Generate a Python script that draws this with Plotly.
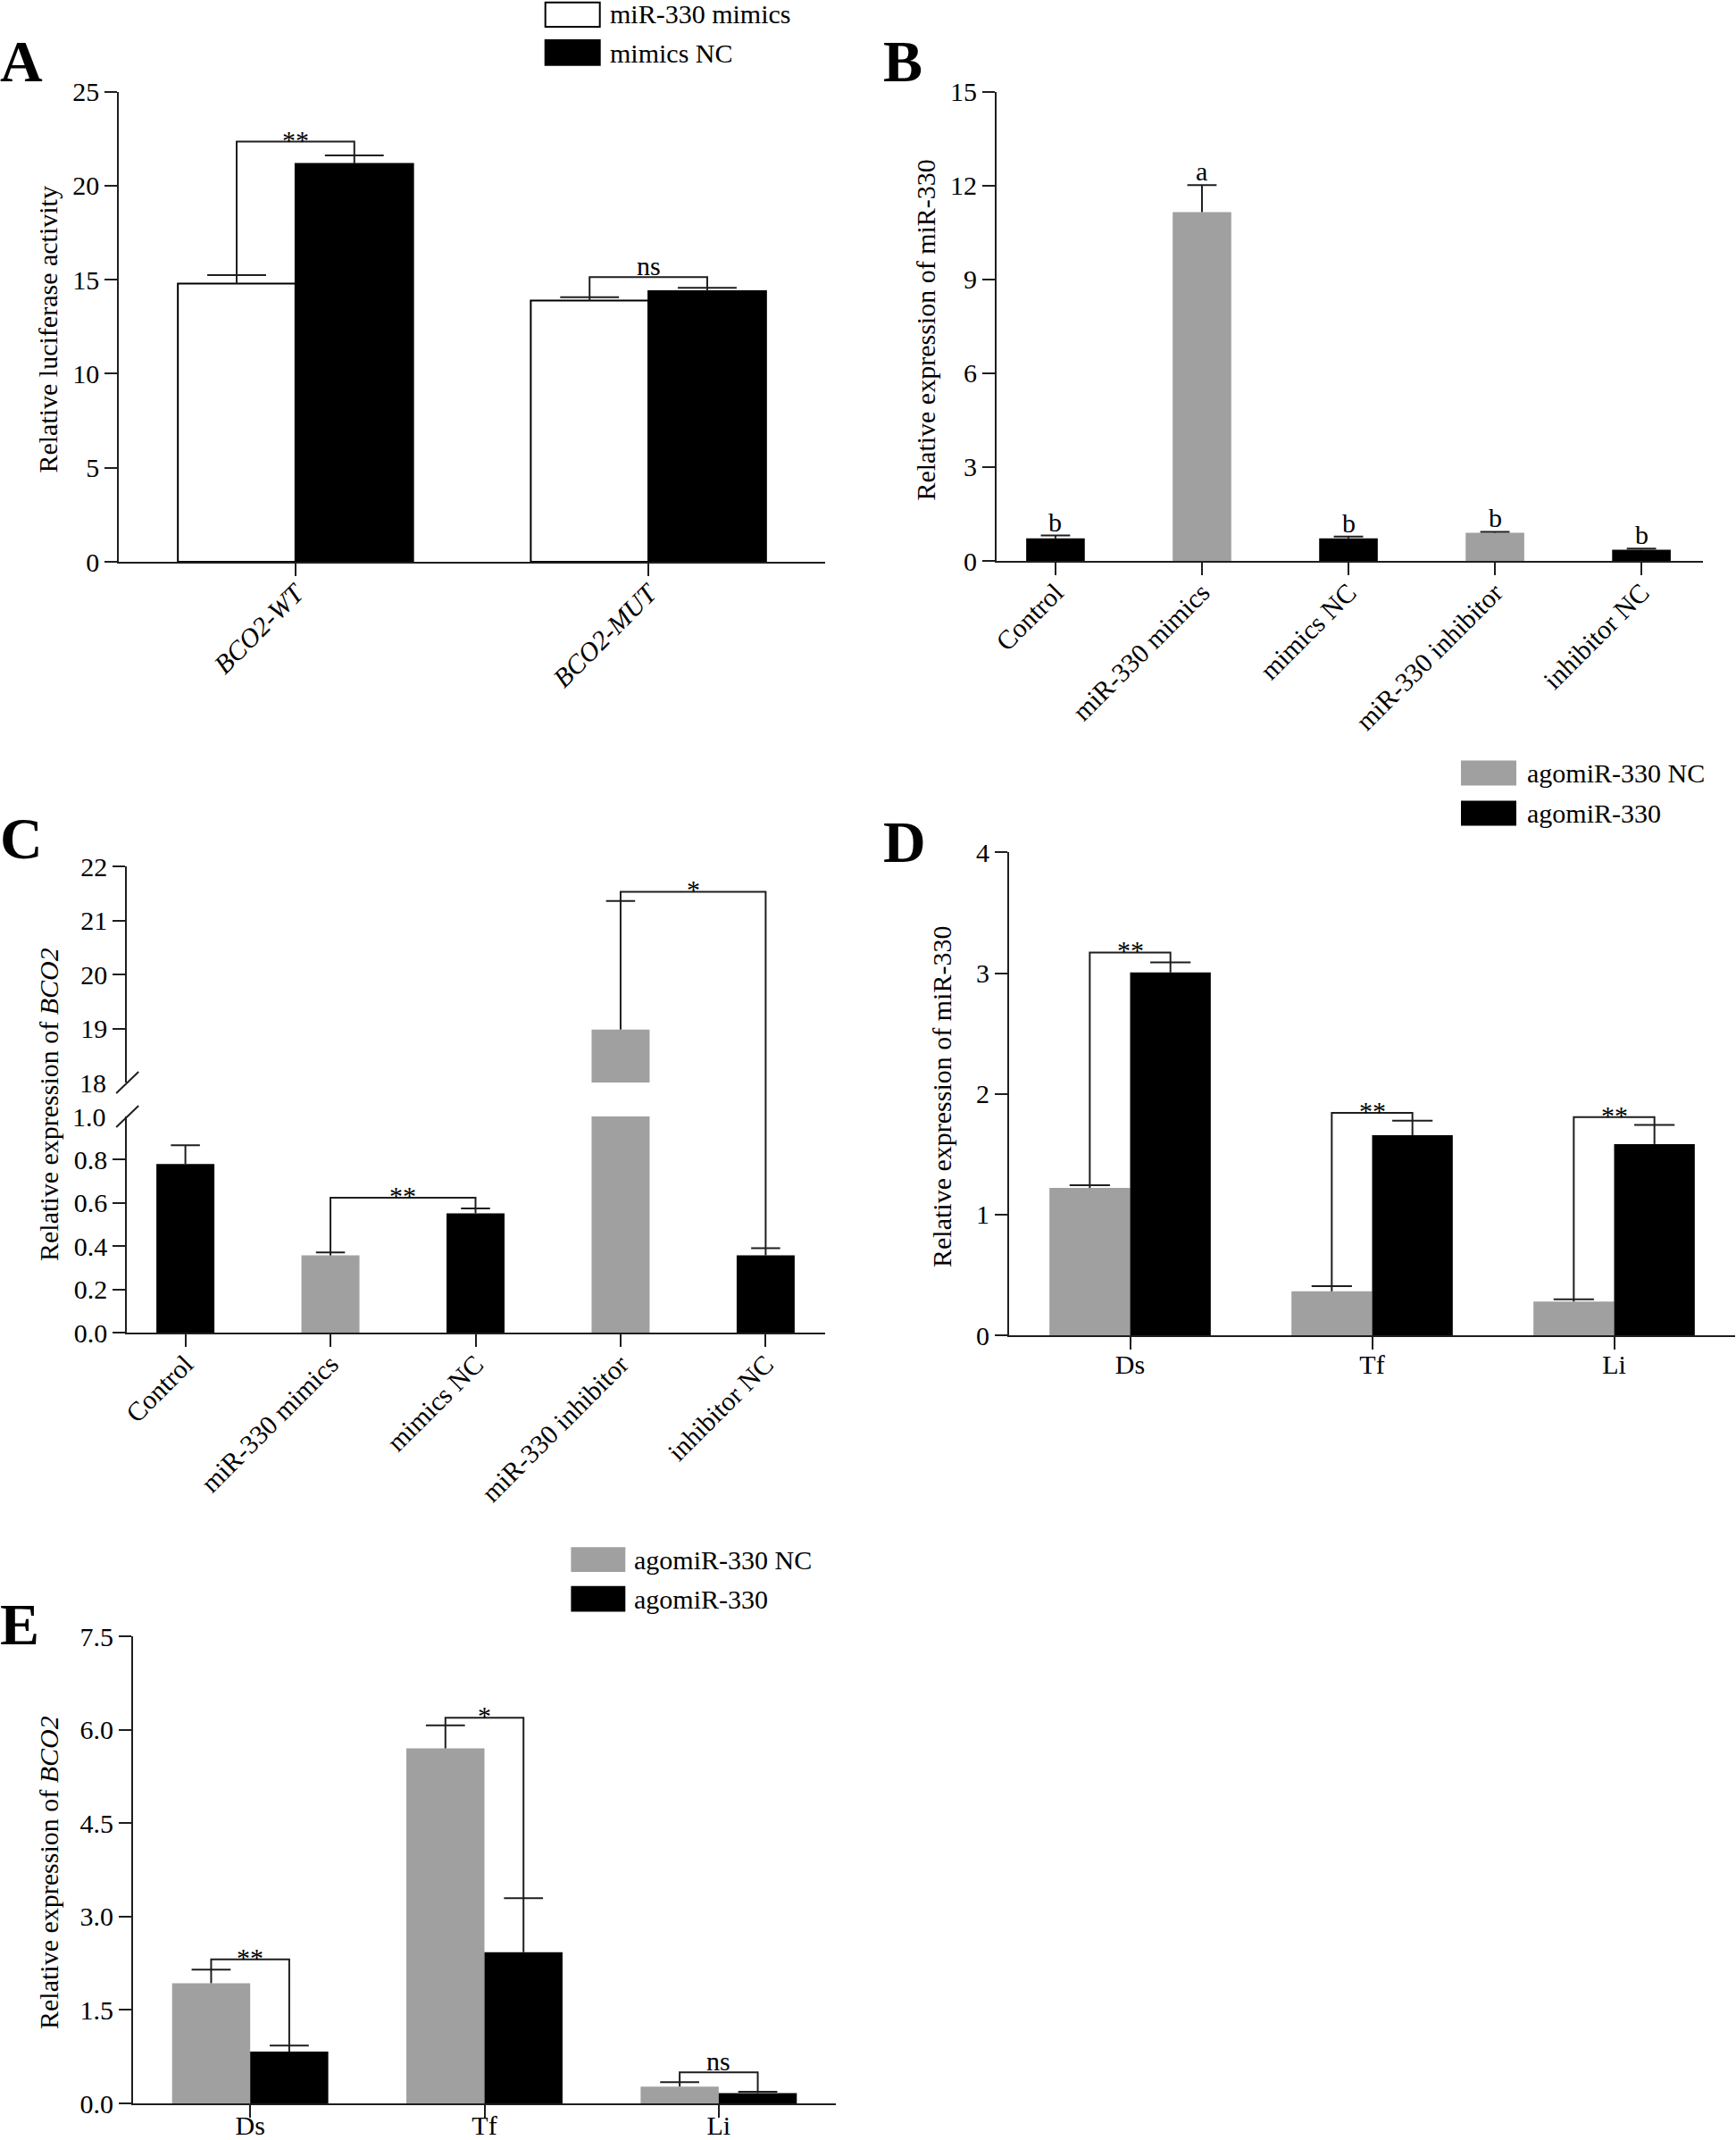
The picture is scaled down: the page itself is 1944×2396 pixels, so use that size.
import plotly.graph_objects as go

W, H = 1944, 2396
FONT = "Liberation Serif"
INK = "#1e1e1e"
BLACK = "#000000"
GRAY = "#a0a0a0"
WHITE = "#ffffff"
TICK_SIZE = 30
TITLE_SIZE = 30
LETTER_SIZE = 66

# ---------------- data ----------------
# Panel A
a_cats = ["<i>BCO2-WT</i>", "<i>BCO2-MUT</i>"]
a_series = ["miR-330 mimics", "mimics NC"]
a_mimics = [14.79, 13.89]
a_mimics_err = [0.45, 0.18]
a_nc = [21.15, 14.39]
a_nc_err = [0.45, 0.17]
a_sig = ["**", "ns"]
a_sig_h = [22.34, 15.13]
a_ticks = [0, 5, 10, 15, 20, 25]

# Panel B
b_cats = ["Control", "miR-330 mimics", "mimics NC", "miR-330 inhibitor", "inhibitor NC"]
b_vals = [0.72, 11.15, 0.72, 0.90, 0.36]
b_err = [0.09, 0.86, 0.06, 0.03, 0.03]
b_letters = ["b", "a", "b", "b", "b"]
b_ticks = [0, 3, 6, 9, 12, 15]

# Panel C (broken axis)
c_cats = ["Control", "miR-330 mimics", "mimics NC", "miR-330 inhibitor", "inhibitor NC"]
c_vals = [0.78, 0.357, 0.552, 18.98, 0.357]
c_err = [0.087, 0.014, 0.022, 2.38, 0.033]
c_sig_pairs = [(1, 2), (3, 4)]
c_sig = ["**", "*"]
c_sig_h = [0.624, 21.53]
c_ticks_low = [0.0, 0.2, 0.4, 0.6, 0.8]
c_ticks_high = [19, 20, 21, 22]

# Panel D
d_cats = ["Ds", "Tf", "Li"]
d_series = ["agomiR-330 NC", "agomiR-330"]
d_nc = [1.22, 0.364, 0.279]
d_nc_err = [0.023, 0.043, 0.019]
d_ago = [3.005, 1.657, 1.584]
d_ago_err = [0.085, 0.12, 0.158]
d_sig = ["**", "**", "**"]
d_sig_h = [3.171, 1.843, 1.808]
d_ticks = [0, 1, 2, 3, 4]

# Panel E
e_cats = ["Ds", "Tf", "Li"]
e_series = ["agomiR-330 NC", "agomiR-330"]
e_nc = [1.93, 5.70, 0.27]
e_nc_err = [0.216, 0.37, 0.07]
e_ago = [0.83, 2.427, 0.166]
e_ago_err = [0.10, 0.866, 0.02]
e_sig = ["**", "*", "ns"]
e_sig_h = [2.313, 6.19, 0.497]
e_ticks = [0.0, 1.5, 3.0, 4.5, 6.0, 7.5]

# treatment groups in B/C: gray = miR-330 mimics / inhibitor
bc_colors = [BLACK, GRAY, BLACK, GRAY, BLACK]


def px_x(p):
    return p / W


def px_y(p):
    return 1 - p / H


fig = go.Figure()


def bars(xs, ys, color, xa, ya, width, line_color=None, line_width=0):
    fig.add_trace(go.Bar(
        x=xs, y=ys, width=width, xaxis=xa, yaxis=ya,
        marker=dict(color=color, line=dict(color=line_color or INK, width=line_width)),
        showlegend=False, hoverinfo="skip"))


def err_lines(xs, vals, errs, capw, xa, ya):
    X, Y = [], []
    for x, v, e in zip(xs, vals, errs):
        X += [x, x, None, x - capw, x + capw, None]
        Y += [v, v + e, None, v + e, v + e, None]
    fig.add_trace(go.Scatter(x=X, y=Y, mode="lines", xaxis=xa, yaxis=ya,
                             line=dict(color=INK, width=2), showlegend=False,
                             hoverinfo="skip"))


def bracket(x1, y1, x2, y2, h, xa, ya):
    fig.add_trace(go.Scatter(x=[x1, x1, x2, x2], y=[y1, h, h, y2], mode="lines",
                             xaxis=xa, yaxis=ya, line=dict(color=INK, width=2),
                             showlegend=False, hoverinfo="skip"))


annotations = []
shapes = []


def sig_text(text, x, y, xa, ya):
    shift = -6 if text == "ns" else -16
    annotations.append(dict(text=text, x=x, y=y, xref=xa, yref=ya, showarrow=False,
                            xanchor="center", yanchor="bottom", yshift=shift,
                            font=dict(family=FONT, size=TICK_SIZE, color="black")))


def paper_text(text, xp, yp, size, xanchor="left", yanchor="middle", angle=0, bold=False):
    if bold:
        text = "<b>" + text + "</b>"
    annotations.append(dict(text=text, x=px_x(xp), y=px_y(yp), xref="paper", yref="paper",
                            showarrow=False, xanchor=xanchor, yanchor=yanchor,
                            textangle=angle,
                            font=dict(family=FONT, size=size, color="black")))


def legend_box(x0, x1, y0, y1, fill, border):
    shapes.append(dict(type="rect", xref="paper", yref="paper",
                       x0=px_x(x0), x1=px_x(x1), y0=px_y(y1), y1=px_y(y0),
                       fillcolor=fill, line=dict(color=border, width=2)))


# ---------------- Panel A ----------------
BW2 = 1 / 3
a_x = list(range(len(a_cats)))
a_x1 = [i - BW2 / 2 for i in a_x]
a_x2 = [i + BW2 / 2 for i in a_x]
bars(a_x1, a_mimics, WHITE, "x", "y", BW2, BLACK, 2)
bars(a_x2, a_nc, BLACK, "x", "y", BW2, BLACK, 2)
err_lines(a_x1, a_mimics, a_mimics_err, BW2 / 4, "x", "y")
err_lines(a_x2, a_nc, a_nc_err, BW2 / 4, "x", "y")
for i in a_x:
    bracket(a_x1[i], a_mimics[i] + a_mimics_err[i], a_x2[i], a_nc[i] + a_nc_err[i],
            a_sig_h[i], "x", "y")
    sig_text(a_sig[i], a_x[i], a_sig_h[i], "x", "y")

# ---------------- Panel B ----------------
BW1 = 0.4
b_x = list(range(len(b_cats)))
bars(b_x, b_vals, bc_colors, "x2", "y2", BW1)
err_lines(b_x, b_vals, b_err, BW1 / 4, "x2", "y2")
for i in b_x:
    annotations.append(dict(text=b_letters[i], x=b_x[i], y=b_vals[i] + b_err[i],
                            xref="x2", yref="y2", showarrow=False, xanchor="center",
                            yanchor="bottom", yshift=-3,
                            font=dict(family=FONT, size=TICK_SIZE, color="black")))

# ---------------- Panel C ----------------
c_x = list(range(len(c_cats)))
for ya in ("y3", "y4"):
    bars(c_x, c_vals, bc_colors, "x3", ya, BW1)
    err_lines(c_x, c_vals, c_err, BW1 / 4, "x3", ya)
i1, i2 = c_sig_pairs[0]
bracket(i1, c_vals[i1] + c_err[i1], i2, c_vals[i2] + c_err[i2], c_sig_h[0], "x3", "y3")
sig_text(c_sig[0], (i1 + i2) / 2, c_sig_h[0], "x3", "y3")
j1, j2 = c_sig_pairs[1]
bracket(j1, c_vals[j1] + c_err[j1], j2, 18, c_sig_h[1], "x3", "y4")
fig.add_trace(go.Scatter(x=[j2, j2], y=[1.0, c_vals[j2] + c_err[j2]], mode="lines",
                         xaxis="x3", yaxis="y3", line=dict(color=INK, width=2),
                         showlegend=False, hoverinfo="skip"))
sig_text(c_sig[1], (j1 + j2) / 2, c_sig_h[1], "x3", "y4")

# ---------------- Panel D ----------------
d_x = list(range(len(d_cats)))
d_x1 = [i - BW2 / 2 for i in d_x]
d_x2 = [i + BW2 / 2 for i in d_x]
bars(d_x1, d_nc, GRAY, "x4", "y5", BW2)
bars(d_x2, d_ago, BLACK, "x4", "y5", BW2)
err_lines(d_x1, d_nc, d_nc_err, BW2 / 4, "x4", "y5")
err_lines(d_x2, d_ago, d_ago_err, BW2 / 4, "x4", "y5")
for i in d_x:
    bracket(d_x1[i], d_nc[i] + d_nc_err[i], d_x2[i], d_ago[i] + d_ago_err[i],
            d_sig_h[i], "x4", "y5")
    sig_text(d_sig[i], d_x[i], d_sig_h[i], "x4", "y5")

# ---------------- Panel E ----------------
e_x = list(range(len(e_cats)))
e_x1 = [i - BW2 / 2 for i in e_x]
e_x2 = [i + BW2 / 2 for i in e_x]
bars(e_x1, e_nc, GRAY, "x5", "y6", BW2)
bars(e_x2, e_ago, BLACK, "x5", "y6", BW2)
err_lines(e_x1, e_nc, e_nc_err, BW2 / 4, "x5", "y6")
err_lines(e_x2, e_ago, e_ago_err, BW2 / 4, "x5", "y6")
for i in e_x:
    bracket(e_x1[i], e_nc[i] + e_nc_err[i], e_x2[i], e_ago[i] + e_ago_err[i],
            e_sig_h[i], "x5", "y6")
    sig_text(e_sig[i], e_x[i], e_sig_h[i], "x5", "y6")


# ---------------- axes ----------------
def axis_common():
    return dict(showline=True, linecolor=INK, linewidth=2, ticks="outside", ticklen=14,
                tickwidth=2, tickcolor=INK, showgrid=False, zeroline=False,
                fixedrange=True, automargin=False,
                tickfont=dict(family=FONT, size=TICK_SIZE, color="black"))


def xax(d0, d1, rng, tickvals, ticktext, anchor, angle=0, standoff=0):
    a = axis_common()
    a.update(domain=[px_x(d0), px_x(d1)], range=rng, tickvals=tickvals, ticktext=ticktext,
             anchor=anchor, tickangle=angle, ticklabelstandoff=standoff)
    return a


def yax(p0, p1, rng, tickvals, anchor, fmt=None):
    a = axis_common()
    a.update(domain=[px_y(p0), px_y(p1)], range=rng, tickvals=tickvals, anchor=anchor)
    if fmt:
        a["tickformat"] = fmt
    return a


layout = dict(
    template="none",
    width=W, height=H, margin=dict(l=0, r=0, t=0, b=0, pad=0, autoexpand=False),
    autosize=False,
    paper_bgcolor="white", plot_bgcolor="white", barmode="overlay",
    font=dict(family=FONT, color="black"), showlegend=False,
    xaxis=xax(133.3, 923.7, [-0.5, 1.5], a_x, a_cats, "y", -45, -10),
    yaxis=yax(629, 102.5, [0, 25], a_ticks, "x"),
    xaxis2=xax(1116, 1907, [-0.402, 4.42], b_x, b_cats, "y2", -45, -10),
    yaxis2=yax(628, 102.5, [0, 15], b_ticks, "x2"),
    xaxis3=xax(142.2, 924, [-0.4026, 4.41], c_x, c_cats, "y3", -45, -10),
    yaxis3=yax(1492, 1250, [0, 1.0], c_ticks_low, "x3", ".1f"),
    yaxis4=yax(1212, 970, [18, 22], c_ticks_high, "x3"),
    xaxis4=xax(1130, 1943, [-0.5, 2.5], d_x, d_cats, "y5", 0, -9),
    yaxis5=yax(1495, 954.4, [0, 4], d_ticks, "x4"),
    xaxis5=xax(149, 936, [-0.5, 2.5], e_x, e_cats, "y6", 0, -17),
    yaxis6=yax(2355, 1832, [0, 7.5], e_ticks, "x5", ".1f"),
)

# break marks on panel C's y axis
for yref, anchor in (("y4 domain", 0), ("y3 domain", 1)):
    shapes.append(dict(type="line", xref="x3 domain", yref=yref,
                       xsizemode="pixel", ysizemode="pixel", xanchor=0, yanchor=anchor,
                       x0=-12, x1=13, y0=-12, y1=12, line=dict(color=INK, width=2)))
# continuation of the '*' bracket through the axis break
shapes.append(dict(type="line", xref="x3", yref="paper", x0=c_sig_pairs[1][1],
                   x1=c_sig_pairs[1][1], y0=px_y(1250), y1=px_y(1212),
                   line=dict(color=INK, width=2)))
# labels at the break
for txt, yref, yv in (("18", "y4", 18), ("1.0", "y3", 1.0)):
    annotations.append(dict(text=txt, x=0, y=yv, xref="x3 domain", yref=yref,
                            showarrow=False, xanchor="right", yanchor="middle",
                            xshift=-21,
                            font=dict(family=FONT, size=TICK_SIZE, color="black")))

# legends
legend_box(610.7, 671.7, 2.7, 30, WHITE, BLACK)
legend_box(610.7, 671.7, 45, 72.7, BLACK, BLACK)
paper_text(a_series[0], 681, 16, TICK_SIZE)
paper_text(a_series[1], 681, 59, TICK_SIZE)

legend_box(1637, 1697, 852.4, 878.6, GRAY, GRAY)
legend_box(1637, 1697, 897.4, 923.6, BLACK, BLACK)
paper_text(d_series[0], 1708, 865.5, TICK_SIZE)
paper_text(d_series[1], 1708, 910.5, TICK_SIZE)

legend_box(640.4, 699.3, 1733.3, 1759, GRAY, GRAY)
legend_box(640.4, 699.3, 1776.8, 1803.4, BLACK, BLACK)
paper_text(e_series[0], 708, 1746, TICK_SIZE)
paper_text(e_series[1], 708, 1790, TICK_SIZE)

# axis titles
paper_text("Relative luciferase activity", 54, 368.6, TITLE_SIZE, "center", "middle", -90)
paper_text("Relative expression of miR-330", 1035.6, 370, TITLE_SIZE, "center", "middle", -90)
paper_text("Relative expression of <i>BCO2</i>", 54, 1237, TITLE_SIZE, "center", "middle", -90)
paper_text("Relative expression of miR-330", 1055, 1228, TITLE_SIZE, "center", "middle", -90)
paper_text("Relative expression of <i>BCO2</i>", 54, 2097, TITLE_SIZE, "center", "middle", -90)

# panel letters
paper_text("A", -2, 68, LETTER_SIZE, "left", "middle", bold=True)
paper_text("B", 987, 69, LETTER_SIZE, "left", "middle", bold=True)
paper_text("C", -2, 938, LETTER_SIZE, "left", "middle", bold=True)
paper_text("D", 987, 942, LETTER_SIZE, "left", "middle", bold=True)
paper_text("E", -2, 1818, LETTER_SIZE, "left", "middle", bold=True)

layout["annotations"] = annotations
layout["shapes"] = shapes
fig.update_layout(**layout)

fig.write_html(
    "out.html",
    config={"displayModeBar": False, "responsive": False},
    post_script="document.body.style.margin='0px';document.body.style.overflow='hidden';",
)
